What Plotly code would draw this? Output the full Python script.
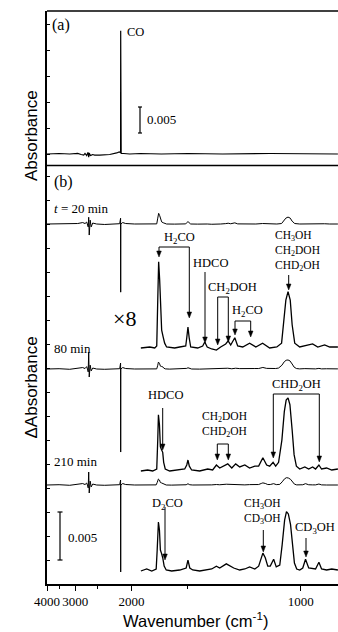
import numpy as np
import plotly.graph_objects as go

# ---------------- DATA ----------------
# Panel (a): CO absorbance spectrum (wavenumber cm-1, absorbance)
a_wn = [4000, 3500, 3154, 2935, 2850, 2789, 2760, 2722, 2700, 2690, 2679, 2668, 2650, 2637,
        2600, 2558, 2464, 2297, 2193, 2158, 2144, 2139, 2137.5, 2136, 2131, 2098, 2022,
        1900, 1700, 1500, 1300, 1100, 1000, 901]
a_abs = [0, 0.0001, 0, 0.0001, -0.0001, -0.0002, 0.0001, -0.0003, 0.0002, 0.0003, -0.0006, 0.0002, -0.0002, -0.0003,
         -0.0001, -0.0002, -0.0002, -0.0001, 0.0002, 0.0004, 0.0003, 0.0003, 0.0237, 0.0001, 0.0001, 0.0001, 0,
         0.0001, 0, 0.0001, 0, 0.0001, 0, 0]

# Panel (b): difference spectra, Delta absorbance in units of 1e-4
t20_wn = [4000, 3500, 3154, 2935, 2813, 2760, 2722, 2700, 2690, 2679, 2668, 2648, 2627, 2597, 2520, 2378,
          2222, 2151, 2139, 2137.5, 2136, 2111, 2072, 1964,
          1896, 1806, 1759, 1741, 1732, 1724, 1715, 1706, 1698, 1685, 1673, 1657, 1594, 1557, 1515,
          1508, 1500, 1492, 1482, 1438, 1408, 1396, 1382, 1357, 1332, 1310, 1285, 1273, 1261, 1242,
          1229, 1207, 1178, 1153, 1127, 1101, 1076, 1060, 1053, 1046, 1039, 1032, 1026, 1018, 1003,
          988, 966, 952, 934, 921, 901]
t20_val = [0, 0.3, 0, 0.5, 1.5, 0.5, 2, -1, -3, 7, -11.5, 4, -3, 1, 0, -0.5,
           0, 0.3, 6, -71, 0, 1.5, 0.5, 0,
           -0.13, 0, -0.13, 0.13, 6.1, 11.1, 8.7, 3.8, 2.2, 1.3, 0.5, 0, -0.13, 0, 0.13,
           1.2, 2.6, 1.2, 0, -0.13, 0.13, 0.65, 0, -0.26, -0.4, 0, 0.4, 0.8, 0.26, 1.2,
           0.13, 0, 0.5, 0, 0.5, -0.13, 0, 0.5, 2.9, 6.1, 7.2, 6.1, 2.9, 0.5, 0,
           0.13, 0.4, 0, 0.26, 0, 0]

t80_wn = [4000, 3500, 3154, 2935, 2813, 2760, 2722, 2700, 2690, 2679, 2668, 2648, 2627, 2597, 2520, 2378,
          2222, 2151, 2139, 2137.5, 2136, 2111, 2072, 1964,
          1896, 1826, 1778, 1741, 1732, 1726, 1717, 1709, 1698, 1689, 1681, 1668, 1632, 1571, 1522,
          1508, 1500, 1491, 1476, 1426, 1379, 1352, 1332, 1315, 1295, 1275, 1256, 1238, 1220, 1198,
          1178, 1157, 1142, 1126, 1112, 1101, 1089, 1080, 1070, 1059, 1051, 1045, 1039, 1033, 1026,
          1020, 1013, 1003, 988, 977, 966, 958, 949, 942, 929, 916, 901]
t80_val = [0, 0.3, -0.3, 0.5, 1.5, 0.5, 2.5, -1, -3, 17.5, -8.3, 4, -2, 1, 0, -0.3,
           0, 0.3, 6.2, -86.5, 0, 1.5, 0.5, 0,
           -0.13, 0, -0.13, 0.13, 3.9, 7.2, 5.9, 3.0, 2.6, 2.3, 1.0, 0.13, -0.13, 0, 0.13,
           0.65, 1.3, 0.5, 0, -0.13, 0.13, 0, 0.65, 0.26, 0.5, 0.8, 0.26, 0.8, 0.4, 0.65,
           0.26, 0.5, 0.5, 1.6, 0.65, 0.5, 1.0, 0.5, 1.0, 3.9, 7.6, 9.1, 9.4, 8.5, 5.2,
           2.0, 0.5, 0.13, 0.4, 0.13, 0.4, 0.13, 0.65, 0.13, 0.26, 0, 0.13]

t210_wn = [4000, 3500, 3154, 2935, 2813, 2760, 2722, 2700, 2690, 2679, 2668, 2648, 2627, 2597, 2520, 2378,
           2222, 2151, 2139, 2137.5, 2136, 2111, 2072, 1964,
           1896, 1836, 1787, 1746, 1737, 1726, 1717, 1709, 1700, 1689, 1677, 1660, 1617, 1557, 1512,
           1500, 1488, 1469, 1426, 1391, 1357, 1332, 1315, 1282, 1261, 1247, 1220, 1198, 1178, 1157,
           1142, 1132, 1126, 1117, 1108, 1099, 1087, 1078, 1066, 1058, 1050, 1044, 1038, 1031, 1025,
           1019, 1012, 1003, 994, 986, 977, 966, 958, 949, 942, 929, 916, 901]
t210_val = [0, 0.3, -0.3, 0.5, 1.5, 0.5, 2, -1, -3, 13.5, -8.3, 4, -2, 1, 0, -0.3,
            0, 0.3, 5.2, -90.6, 0, 1.5, 0.5, 0,
            -0.13, 0.13, -0.13, 0.13, 2.6, 6.25, 5.2, 2.6, 2.2, 1.6, 0.5, 0, -0.13, 0, 0.26,
            1.3, 0.26, 0, -0.13, 0, 0.13, 0.5, 0.26, 0.8, 0.5, 0.26, 0, 0.13, 0.4, 0.13,
            0.5, 1.6, 2.2, 1.6, 0.5, 0.5, 1.4, 0.4, 0.65, 3.3, 6.5, 7.6, 7.3, 5.9, 3.3,
            0.9, 0.13, 0, 0.26, 1.4, 0.26, 0.13, 0.13, 1.0, 0.13, 0, 0.13, 0]

x_tick_wn = [4000, 3000, 2000, 1000]
x_tick_labels = ["4000", "3000", "2000", "1000"]
x_minor_wn = [3500, 2500, 1500]
x8_limit = 1898          # expanded (x8) traces start here
x8_factor = 8

# ---------------- LAYOUT HELPERS ----------------
W, H = 338, 632
L = 47
PW = W - L
SERIF = "Liberation Serif"
SANS = "Liberation Sans"


def wl(wn):
    """wavenumber (cm-1) -> wavelength (um): the axis is linear in wavelength"""
    return 1e4 / np.asarray(wn, dtype=float)


def PX(x):
    return (x - L) / PW


def PY(y):
    return (H - y) / H


SB = 9600.0   # px per absorbance unit, panel b
SA = 5200.0   # px per absorbance unit, panel a
yb_range = [0, (584 - 165.5) / SB]
ya_range = [-(165.5 - 154) / SA, (154 - 11) / SA]


def off(px):
    return (584 - px) / SB


fig = go.Figure()

# panel (a)
fig.add_trace(go.Scatter(x=wl(a_wn), y=a_abs, mode="lines", xaxis="x", yaxis="y2",
                         line=dict(color="black", width=1.2), hoverinfo="skip"))

series = [
    (t20_wn, t20_val, 224, 347),
    (t80_wn, t80_val, 369, 470),
    (t210_wn, t210_val, 485, 570),
]
for wn, val, raw_base, x8_base in series:
    wn = np.asarray(wn, float)
    v = np.asarray(val, float) * 1e-4
    fig.add_trace(go.Scatter(x=wl(wn), y=v + off(raw_base), mode="lines",
                             line=dict(color="black", width=1), hoverinfo="skip"))
    m = wn <= x8_limit
    fig.add_trace(go.Scatter(x=wl(wn[m]), y=x8_factor * v[m] + off(x8_base), mode="lines",
                             line=dict(color="black", width=1.3), hoverinfo="skip"))

shapes = []
ann = []


def line(x0, y0, x1, y1, w=1.2):
    shapes.append(dict(type="line", xref="paper", yref="paper", x0=PX(x0), y0=PY(y0),
                       x1=PX(x1), y1=PY(y1), line=dict(color="black", width=w)))


def text(t, x, y, size=12.5, xanchor="center", font=SERIF, align="center"):
    ann.append(dict(text=t, x=PX(x), y=PY(y), xref="paper", yref="paper", showarrow=False,
                    xanchor=xanchor, yanchor="middle", align=align,
                    font=dict(family=font, size=size, color="black")))


def head(x, y):
    shapes.append(dict(type="path", xref="paper", yref="paper",
                       path=f"M {PX(x - 2.3)},{PY(y - 6)} L {PX(x)},{PY(y)} L {PX(x + 2.3)},{PY(y - 6)} Z",
                       fillcolor="black", line=dict(color="black", width=0.5)))


def arrow(x, yhead, ytail):
    line(x, ytail, x, yhead - 3, 1)
    head(x, yhead)


def bracket(x1, y1, x2, y2, ytop):
    shapes.append(dict(type="path", xref="paper", yref="paper",
                       path=f"M {PX(x1)},{PY(y1 - 3)} L {PX(x1)},{PY(ytop)} L {PX(x2)},{PY(ytop)} L {PX(x2)},{PY(y2 - 3)}",
                       line=dict(color="black", width=1)))
    head(x1, y1)
    head(x2, y2)


# frame lines
line(L, 11, W + 2, 11, 1.5)
line(L, 165.5, W + 2, 165.5, 1.5)

# scale bars
line(140, 107, 140, 133, 1.2)
line(138, 107, 142, 107, 1.2)
line(138, 133, 142, 133, 1.2)
line(60, 512, 60, 560, 1.2)
line(57.5, 512, 62.5, 512, 1.2)
line(57.5, 560, 62.5, 560, 1.2)

# panel a text
text("(a)", 61, 25, 16)
text("CO", 125, 32, 12.5, "left")
text("0.005", 145, 119, 13, "left")

# panel b text
text("(b)", 63, 182, 16)
text("<i>t</i> = 20 min", 52, 208, 13, "left")
text("80 min", 52, 348, 13, "left")
text("210 min", 52, 461, 13, "left")
text("×8", 124.5, 318, 22)
text("0.005", 66, 537, 13, "left")

# 20 min annotations
text("H<sub>2</sub>CO", 179, 238)
bracket(159, 257, 189.3, 318, 247)
text("HDCO", 210.5, 263)
arrow(205, 343, 272)
text("CH<sub>2</sub>DOH", 232, 288)
bracket(217.7, 345, 228.3, 342, 297)
text("H<sub>2</sub>CO", 247.5, 311)
bracket(235, 335, 250.7, 337, 321)
text("CH<sub>3</sub>OH<br>CH<sub>2</sub>DOH<br>CHD<sub>2</sub>OH", 273, 251, 11.5, xanchor="left", align="left")
arrow(288.7, 290, 275)

# 80 min annotations
text("HDCO", 165.7, 395)
arrow(162.7, 450, 408)
text("CH<sub>2</sub>DOH<br>CHD<sub>2</sub>OH", 200, 424, 11.5, xanchor="left", align="left")
bracket(217.3, 460, 228.3, 460, 444)
text("CHD<sub>2</sub>OH", 296.5, 385)
bracket(273.3, 458, 319.3, 462, 394)

# 210 min annotations
text("D<sub>2</sub>CO", 167, 504)
arrow(165, 560, 507)
text("CH<sub>3</sub>OH<br>CD<sub>3</sub>OH", 242, 511, 11.5, xanchor="left", align="left")
arrow(263.3, 552, 530)
text("CD<sub>3</sub>OH", 315, 528)
arrow(306, 557, 538)

# axis titles
text("Wavenumber (cm<sup>-1</sup>)", 195, 620, 16.5, font=SANS)
ann.append(dict(text="Absorbance", x=PX(20), y=PY(88), xref="paper", yref="paper", showarrow=False,
                textangle=-90, font=dict(family=SANS, size=17, color="black")))
ann.append(dict(text="ΔAbsorbance", x=PX(20), y=PY(388), xref="paper", yref="paper", showarrow=False,
                textangle=-90, font=dict(family=SANS, size=17, color="black")))

fig.update_layout(
    width=W, height=H,
    margin=dict(l=L, r=0, t=0, b=0, pad=0, autoexpand=False),
    paper_bgcolor="white", plot_bgcolor="white", showlegend=False,
    xaxis=dict(domain=[0, 1], anchor="y", range=[2.5, 2.5 + PW / 33.83],
               showline=True, linewidth=1.5, linecolor="black", mirror=False,
               ticks="outside", ticklen=5, tickwidth=1.2, tickcolor="black",
               tickmode="array", tickvals=wl(x_tick_wn), ticktext=x_tick_labels,
               tickfont=dict(family=SERIF, size=13, color="black"),
               minor=dict(tickmode="array", tickvals=wl(x_minor_wn), ticks="outside", ticklen=3,
                          tickwidth=1, tickcolor="black"),
               showgrid=False, zeroline=False, automargin=False),
    yaxis=dict(domain=[PY(584), PY(165.5)], anchor="x", range=yb_range,
               showline=True, linewidth=1.5, linecolor="black",
               ticks="inside", ticklen=3, tickwidth=1, tickcolor="black",
               tick0=0, dtick=0.0025, showticklabels=False,
               showgrid=False, zeroline=False, automargin=False),
    yaxis2=dict(domain=[PY(165.5), PY(11)], anchor="x", range=ya_range,
                showline=True, linewidth=1.5, linecolor="black",
                ticks="inside", ticklen=3, tickwidth=1, tickcolor="black",
                tick0=0, dtick=0.005, showticklabels=False,
                showgrid=False, zeroline=False, automargin=False),
    shapes=shapes, annotations=ann,
)

fig.write_html("out.html", config={"displayModeBar": False},
               post_script="document.body.style.margin='0px';")
